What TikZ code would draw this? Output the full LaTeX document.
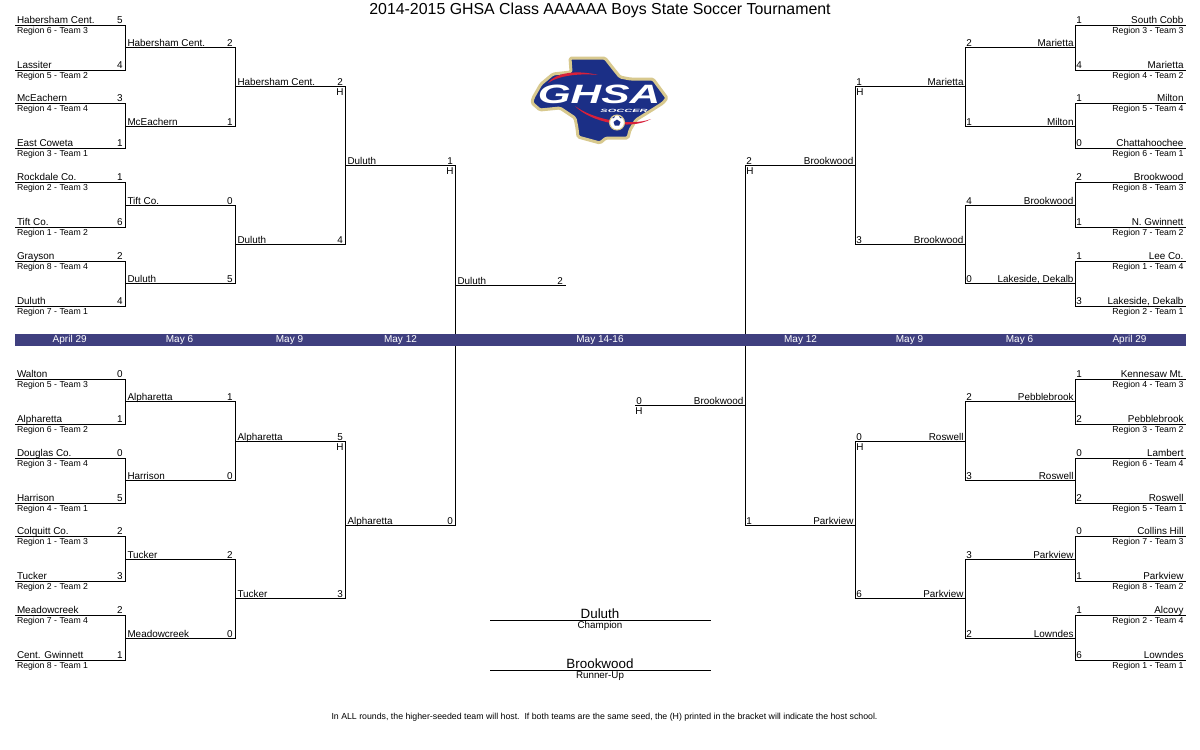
\documentclass[tikz,border=0pt]{standalone}
\usepackage{fontspec}
\setmainfont{Liberation Sans}
\definecolor{band}{HTML}{3F3F7F}
\definecolor{navy}{HTML}{1B2F86}
\definecolor{gold}{HTML}{D8C98E}
\definecolor{logored}{HTML}{D8203A}
\newcommand{\tsize}{\fontsize{9.9}{11}\selectfont}
\newcommand{\rsize}{\fontsize{8.7}{10}\selectfont}
\newcommand{\lift}{1.9}
\tikzset{
  every node/.style={inner sep=0pt,outer sep=0pt,text=black},
  wire/.style={draw=black,line width=1pt,line cap=rect},
  teamL/.style={anchor=base west,font=\tsize},
  teamR/.style={anchor=base east,font=\tsize},
  subL/.style={anchor=base west,font=\rsize},
  subR/.style={anchor=base east,font=\rsize},
  score/.style={anchor=base,font=\tsize},
  dateL/.style={anchor=center,font=\fontsize{10}{11}\selectfont,text=white},
}
% left-hand slot: id, x1, x2, y, team, score
\newcommand{\SL}[6]{%
  \coordinate (#1a) at (#2,#4); \coordinate (#1b) at (#3,#4);
  \draw[wire] (#1a) -- (#1b);
  \node[teamL] (#1t) at (#2+2,#4-\lift) {#5};
  \node[score] (#1s) at (#3-5.5,#4-\lift) {#6};}
% right-hand slot: id, x1 (inner), x2 (outer), y, team, score
\newcommand{\SR}[6]{%
  \coordinate (#1a) at (#2,#4); \coordinate (#1b) at (#3,#4);
  \draw[wire] (#1a) -- (#1b);
  \node[teamR] (#1t) at (#3-2,#4-\lift) {#5};
  \node[score] (#1s) at (#2+3.5,#4-\lift) {#6};}
\newcommand{\RL}[3]{\node[subL] (#1r) at (17,#2+8.2) {#3};}
\newcommand{\RR}[3]{\node[subR] (#1r) at (1183.5,#2+8.2) {#3};}
\begin{document}
\begin{tikzpicture}[x=1pt,y=-1pt]
\useasboundingbox (0,0) rectangle (1200,750);
\fill[white] (0,0) rectangle (1200,750);
\node[anchor=base,font=\fontsize{15.9}{18}\selectfont] (title) at (600,14.5) {2014-2015 GHSA Class AAAAAA Boys State Soccer Tournament};

% ---------- first round
\renewcommand{\lift}{1.9}
\SL{a1}{15}{125.5}{25}{Habersham Cent.}{5}\RL{a1}{25}{Region 6 - Team 3}
\SL{a2}{15}{125.5}{70.3}{Lassiter}{4}\RL{a2}{70.3}{Region 5 - Team 2}
\SL{a3}{15}{125.5}{103.4}{McEachern}{3}\RL{a3}{103.4}{Region 4 - Team 4}
\SL{a4}{15}{125.5}{148.4}{East Coweta}{1}\RL{a4}{148.4}{Region 3 - Team 1}
\SL{a5}{15}{125.5}{182.4}{Rockdale Co.}{1}\RL{a5}{182.4}{Region 2 - Team 3}
\SL{a6}{15}{125.5}{227.4}{Tift Co.}{6}\RL{a6}{227.4}{Region 1 - Team 2}
\SL{a7}{15}{125.5}{261.4}{Grayson}{2}\RL{a7}{261.4}{Region 8 - Team 4}
\SL{a8}{15}{125.5}{306.4}{Duluth}{4}\RL{a8}{306.4}{Region 7 - Team 1}
\SL{e1}{15}{125.5}{379.3}{Walton}{0}\RL{e1}{379.3}{Region 5 - Team 3}
\SL{e2}{15}{125.5}{424.3}{Alpharetta}{1}\RL{e2}{424.3}{Region 6 - Team 2}
\SL{e3}{15}{125.5}{458.3}{Douglas Co.}{0}\RL{e3}{458.3}{Region 3 - Team 4}
\SL{e4}{15}{125.5}{503.3}{Harrison}{5}\RL{e4}{503.3}{Region 4 - Team 1}
\SL{e5}{15}{125.5}{536.3}{Colquitt Co.}{2}\RL{e5}{536.3}{Region 1 - Team 3}
\SL{e6}{15}{125.5}{581.3}{Tucker}{3}\RL{e6}{581.3}{Region 2 - Team 2}
\SL{e7}{15}{125.5}{615.3}{Meadowcreek}{2}\RL{e7}{615.3}{Region 7 - Team 4}
\SL{e8}{15}{125.5}{660.3}{Cent. Gwinnett}{1}\RL{e8}{660.3}{Region 8 - Team 1}
\SR{p1}{1075.5}{1185.5}{25}{South Cobb}{1}\RR{p1}{25}{Region 3 - Team 3}
\SR{p2}{1075.5}{1185.5}{70.3}{Marietta}{4}\RR{p2}{70.3}{Region 4 - Team 2}
\SR{p3}{1075.5}{1185.5}{103.4}{Milton}{1}\RR{p3}{103.4}{Region 5 - Team 4}
\SR{p4}{1075.5}{1185.5}{148.4}{Chattahoochee}{0}\RR{p4}{148.4}{Region 6 - Team 1}
\SR{p5}{1075.5}{1185.5}{182.4}{Brookwood}{2}\RR{p5}{182.4}{Region 8 - Team 3}
\SR{p6}{1075.5}{1185.5}{227.4}{N. Gwinnett}{1}\RR{p6}{227.4}{Region 7 - Team 2}
\SR{p7}{1075.5}{1185.5}{261.4}{Lee Co.}{1}\RR{p7}{261.4}{Region 1 - Team 4}
\SR{p8}{1075.5}{1185.5}{306.4}{Lakeside, Dekalb}{3}\RR{p8}{306.4}{Region 2 - Team 1}
\SR{t1}{1075.5}{1185.5}{379.3}{Kennesaw Mt.}{1}\RR{t1}{379.3}{Region 4 - Team 3}
\SR{t2}{1075.5}{1185.5}{424.3}{Pebblebrook}{2}\RR{t2}{424.3}{Region 3 - Team 2}
\SR{t3}{1075.5}{1185.5}{458.3}{Lambert}{0}\RR{t3}{458.3}{Region 6 - Team 4}
\SR{t4}{1075.5}{1185.5}{503.3}{Roswell}{2}\RR{t4}{503.3}{Region 5 - Team 1}
\SR{t5}{1075.5}{1185.5}{536.3}{Collins Hill}{0}\RR{t5}{536.3}{Region 7 - Team 3}
\SR{t6}{1075.5}{1185.5}{581.3}{Parkview}{1}\RR{t6}{581.3}{Region 8 - Team 2}
\SR{t7}{1075.5}{1185.5}{615.3}{Alcovy}{1}\RR{t7}{615.3}{Region 2 - Team 4}
\SR{t8}{1075.5}{1185.5}{660.3}{Lowndes}{6}\RR{t8}{660.3}{Region 1 - Team 1}

% ---------- later rounds
\renewcommand{\lift}{1.1}
\SL{b1}{125.5}{235.5}{47.3}{Habersham Cent.}{2}
\SL{b2}{125.5}{235.5}{126.3}{McEachern}{1}
\SL{b3}{125.5}{235.5}{205.3}{Tift Co.}{0}
\SL{b4}{125.5}{235.5}{283.3}{Duluth}{5}
\SL{c1}{235.5}{345.5}{86.3}{Habersham Cent.}{2}
\SL{c2}{235.5}{345.5}{244.3}{Duluth}{4}
\SL{d1}{345.5}{455.5}{165.3}{Duluth}{1}
\SL{f1}{125.5}{235.5}{401.3}{Alpharetta}{1}
\SL{f2}{125.5}{235.5}{480.3}{Harrison}{0}
\SL{f3}{125.5}{235.5}{559.3}{Tucker}{2}
\SL{f4}{125.5}{235.5}{638.3}{Meadowcreek}{0}
\SL{g1}{235.5}{345.5}{441.3}{Alpharetta}{5}
\SL{g2}{235.5}{345.5}{598.3}{Tucker}{3}
\SL{h1}{345.5}{455.5}{525.3}{Alpharetta}{0}
\SL{fin}{455.5}{565.5}{285.3}{Duluth}{2}
\SR{q1}{965.5}{1075.5}{47.3}{Marietta}{2}
\SR{q2}{965.5}{1075.5}{126.3}{Milton}{1}
\SR{q3}{965.5}{1075.5}{205.3}{Brookwood}{4}
\SR{q4}{965.5}{1075.5}{283.3}{Lakeside, Dekalb}{0}
\SR{r1}{855.5}{965.5}{86.3}{Marietta}{1}
\SR{r2}{855.5}{965.5}{244.3}{Brookwood}{3}
\SR{s1}{745.5}{855.5}{165.3}{Brookwood}{2}
\SR{u1}{965.5}{1075.5}{401.3}{Pebblebrook}{2}
\SR{u2}{965.5}{1075.5}{480.3}{Roswell}{3}
\SR{u3}{965.5}{1075.5}{559.3}{Parkview}{3}
\SR{u4}{965.5}{1075.5}{638.3}{Lowndes}{2}
\SR{v1}{855.5}{965.5}{441.3}{Roswell}{0}
\SR{v2}{855.5}{965.5}{598.3}{Parkview}{6}
\SR{w1}{745.5}{855.5}{525.3}{Parkview}{1}
\SR{fin2}{635.5}{745.5}{405.3}{Brookwood}{0}

% ---------- vertical connectors
\foreach \m/\n in {a1/a2,a3/a4,a5/a6,a7/a8,b1/b2,b3/b4,c1/c2,d1/h1,e1/e2,e3/e4,e5/e6,e7/e8,f1/f2,f3/f4,g1/g2}
  \draw[wire] (\m b) -- (\n b);
\foreach \m/\n in {p1/p2,p3/p4,p5/p6,p7/p8,q1/q2,q3/q4,r1/r2,s1/w1,t1/t2,t3/t4,t5/t6,t7/t8,u1/u2,u3/u4,v1/v2}
  \draw[wire] (\m a) -- (\n a);

% ---------- host marks
\node[score] (hc1) at (340,95.3) {H};
\node[score] (hd1) at (450,174.3) {H};
\node[score] (hg1) at (340,450.3) {H};
\node[score] (hr1) at (860,95.3) {H};
\node[score] (hs1) at (750,174.3) {H};
\node[score] (hv1) at (860,450.3) {H};
\node[score] (hf2) at (639,414.3) {H};

% ---------- date band
\fill[band] (15,333.6) rectangle (1186,346);
\node[dateL] (d01) at (69.7,340) {April 29};
\node[dateL] (d02) at (179.5,340) {May 6};
\node[dateL] (d03) at (289.5,340) {May 9};
\node[dateL] (d04) at (400.5,340) {May 12};
\node[dateL] (d05) at (600,340) {May 14-16};
\node[dateL] (d06) at (800.5,340) {May 12};
\node[dateL] (d07) at (909.5,340) {May 9};
\node[dateL] (d08) at (1019.5,340) {May 6};
\node[dateL] (d09) at (1129.5,340) {April 29};

% ---------- champion / runner-up
\coordinate (cha) at (490,620.3); \coordinate (chb) at (710.5,620.3);
\draw[wire] (cha) -- (chb);
\node[anchor=base,font=\fontsize{13.4}{15}\selectfont] (champ) at (600,618.3) {Duluth};
\node[anchor=base,font=\fontsize{9.8}{11}\selectfont] (champl) at (600,628.3) {Champion};
\coordinate (rua) at (490,670.3); \coordinate (rub) at (710.5,670.3);
\draw[wire] (rua) -- (rub);
\node[anchor=base,font=\fontsize{13.4}{15}\selectfont] (ru) at (600,668.3) {Brookwood};
\node[anchor=base,font=\fontsize{9.8}{11}\selectfont] (rul) at (600,678.3) {Runner-Up};

% ---------- footnote
\node[anchor=base,font=\fontsize{8.77}{10}\selectfont] (foot) at (604.5,719.5) {In ALL rounds, the higher-seeded team will host.\ \ If both teams are the same seed, the (H) printed in the bracket will indicate the host school.};

% ---------- logo
\def\logopath{(570,58) -- (605,58) -- (612,67) -- (620,77) -- (630,79) -- (653,79) -- (667,98) -- (663,103) -- (652,110) -- (636,120) -- (630,130) -- (628,138) -- (606,138) -- (600,143) -- (578,137) -- (577,128) -- (575,118) -- (560,108) -- (540,110) -- (532,103) -- (533,98) -- (541,84) -- (553,74) -- (571,72) -- cycle}
\draw[gold,fill=navy,line width=3pt,line join=round,rounded corners=1.5pt] \logopath;
\fill[logored] (548,83) .. controls (556,72) and (578,70) .. (598,75) .. controls (578,73) and (558,76) .. (548,83) -- cycle;
\fill[logored] (575,106) .. controls (590,122) and (630,131) .. (651,119) .. controls (630,127) and (592,119) .. (575,106) -- cycle;
\node[anchor=center,font=\fontsize{26.5}{28}\selectfont\bfseries\itshape,text=white,xscale=1.6] (ghsa) at (599,94.5) {GHSA};
\node[anchor=center,font=\fontsize{4.6}{5}\selectfont\bfseries\itshape,text=white,xscale=2.4] (soccer) at (624,110.8) {SOCCER};
\fill[white,draw=gold,line width=1pt] (617,122.5) circle (7.5);
\fill[navy] (617,119.5) -- (620.5,122) -- (619.2,125.5) -- (614.8,125.5) -- (613.5,122) -- cycle;
\fill[navy] (612,118) -- (615,116) -- (614,118) -- cycle;
\fill[navy] (622,118) -- (619,116) -- (620,118) -- cycle;
\end{tikzpicture}
\end{document}
